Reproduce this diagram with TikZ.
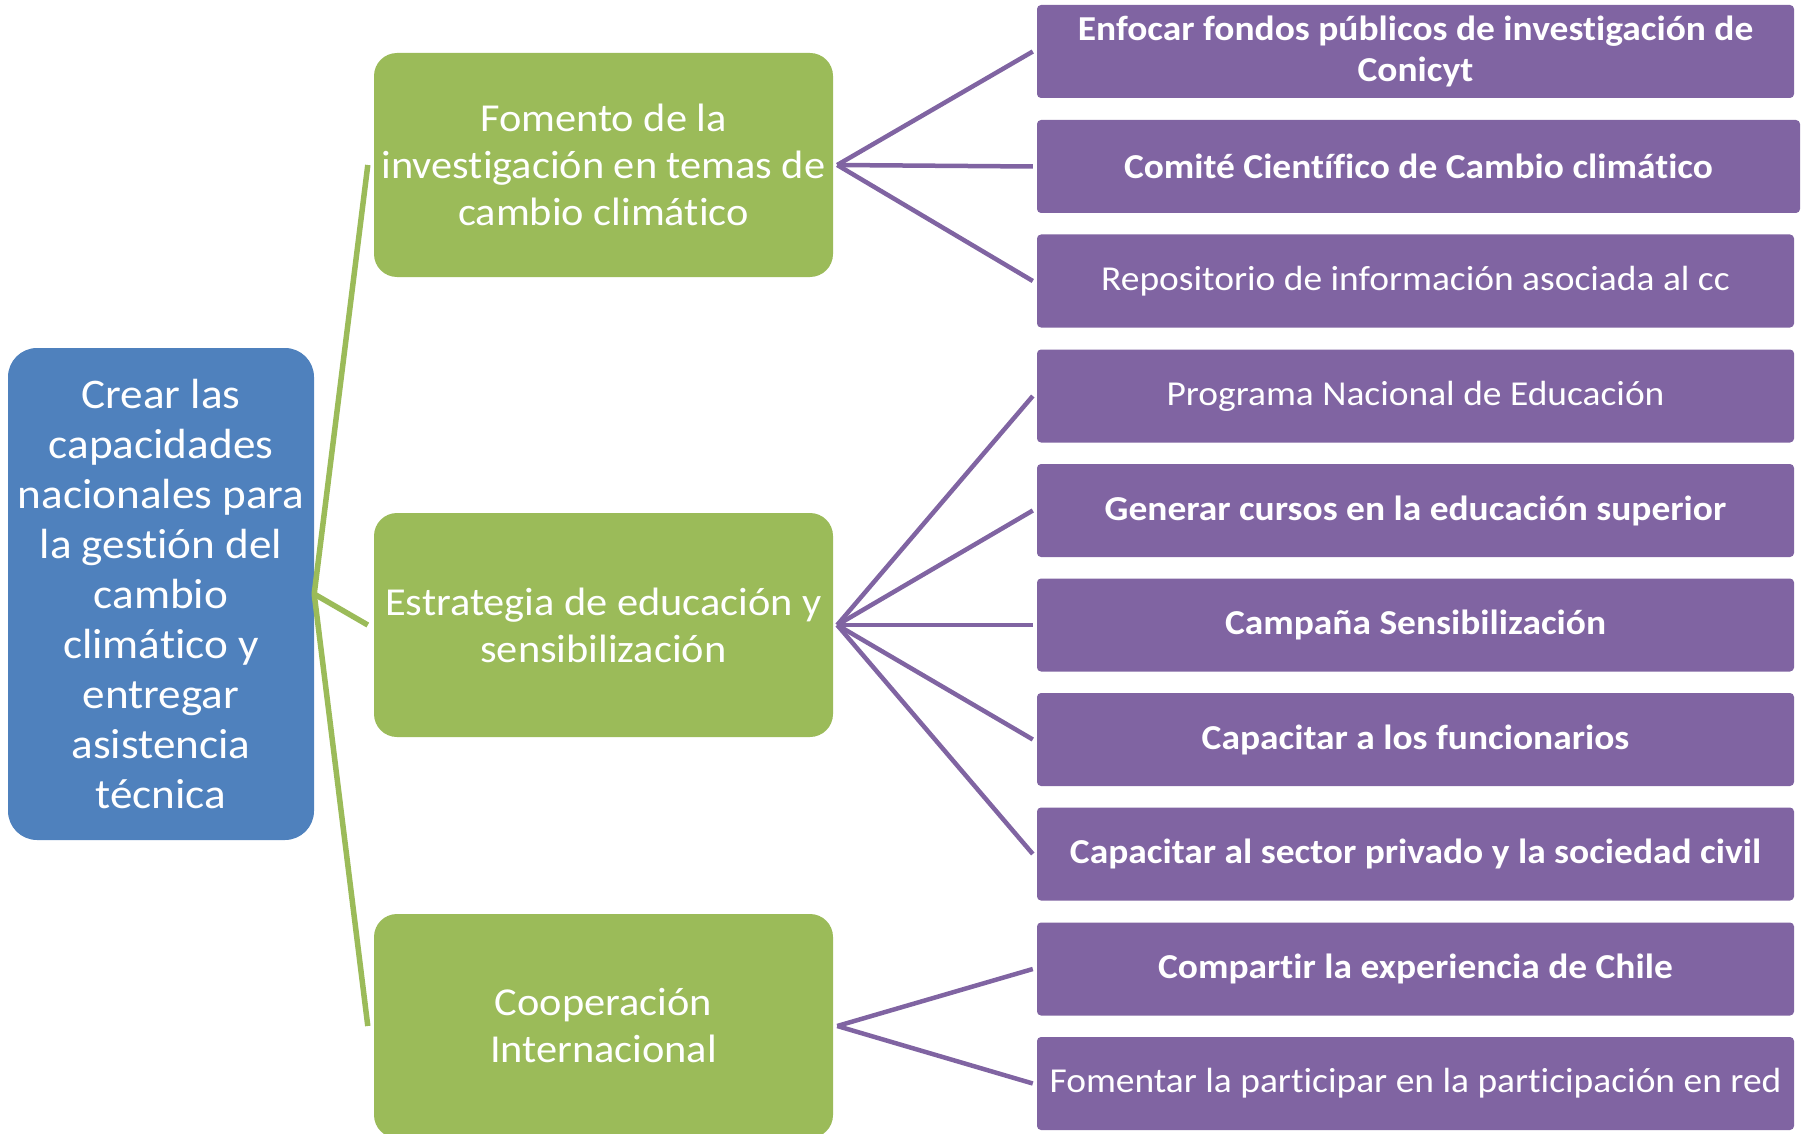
\documentclass[tikz,border=0pt]{standalone}
\usepackage{fontspec}
\setmainfont{Carlito}[Ligatures={NoCommon},FakeStretch=1.07]
\definecolor{cblue}{HTML}{4F81BD}
\definecolor{cgreen}{HTML}{9BBB59}
\definecolor{cpurple}{HTML}{8064A2}
\begin{document}
\begin{tikzpicture}[x=1pt,y=-1pt,
  rootbox/.style={fill=cblue,rounded corners=29pt,minimum width=306pt,minimum height=492pt,inner sep=0pt,text=white,align=center,font=\fontsize{42.2}{50}\selectfont},
  midbox/.style={fill=cgreen,rounded corners=23pt,minimum width=459pt,minimum height=224pt,inner sep=0pt,text=white,align=center,font=\fontsize{39.6}{47}\selectfont},
  leafbox/.style={fill=cpurple,rounded corners=4pt,minimum width=757pt,minimum height=93pt,inner sep=0pt,text=white,align=center,font=\fontsize{35}{41.4}\selectfont},
  leafb/.style={leafbox,font=\fontsize{35}{41.4}\selectfont\bfseries},
  gline/.style={draw=cgreen,line width=5.5pt},
  pline/.style={draw=cpurple,line width=4.5pt}]
\useasboundingbox (0,0) rectangle (1805,1134);
\clip (0,0) rectangle (1805,1134);
\node[rootbox] (root) at (161,594) {Crear las\\capacidades\\nacionales para\\la gestión del\\cambio\\climático y\\entregar\\asistencia\\técnica};
\node[midbox] (g1) at (603.5,165) {Fomento de la\\investigación en temas de\\cambio climático};
\node[midbox] (g2) at (603.5,625) {Estrategia de educación y\\sensibilización};
\node[midbox] (g3) at (603.5,1026) {Cooperación\\Internacional};
\node[leafb] (p1) at (1415.5,51.5) {Enfocar fondos públicos de investigación de\\Conicyt};
\node[leafb,minimum width=763pt] (p2) at (1418.5,166.5) {Comité Científico de Cambio climático};
\node[leafbox] (p3) at (1415.5,281) {Repositorio de información asociada al cc};
\node[leafbox] (p4) at (1415.5,396) {Programa Nacional de Educación};
\node[leafb] (p5) at (1415.5,510.5) {Generar cursos en la educación superior};
\node[leafb] (p6) at (1415.5,625) {Campaña Sensibilización};
\node[leafb] (p7) at (1415.5,739.5) {Capacitar a los funcionarios};
\node[leafb] (p8) at (1415.5,854) {Capacitar al sector privado y la sociedad civil};
\node[leafb] (p9) at (1415.5,969) {Compartir la experiencia de Chile};
\node[leafbox] (p10) at (1415.5,1083.5) {Fomentar la participar en la participación en red};
\foreach \g in {g1,g2,g3}
  \draw[gline] (root.east) -- ([xshift=-6pt]\g.west);
\foreach \g/\p in {g1/p1,g1/p2,g1/p3,g2/p4,g2/p5,g2/p6,g2/p7,g2/p8,g3/p9,g3/p10}
  \draw[pline] ([xshift=4pt]\g.east) -- ([xshift=-4pt]\p.west);
\end{tikzpicture}
\end{document}
